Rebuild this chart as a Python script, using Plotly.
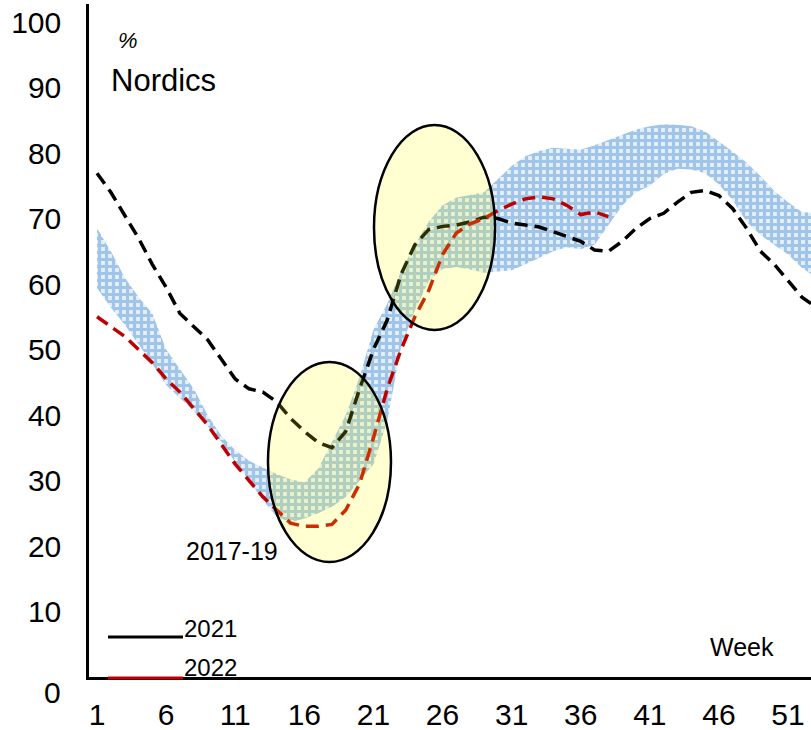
import plotly.graph_objects as go

# ---------------- data ----------------
weeks = list(range(1, 54))

band_low = [59.4, 56.4, 53.8, 50.8, 47.8, 44.6, 42.6, 40.6, 38.3, 35.9,
            32.8, 30.0, 27.0, 24.5, 23.6, 24.2, 25.0, 26.0, 27.5, 30.0,
            32.5, 39.0, 50.5, 56.0, 60.5, 62.3, 62.6, 62.2, 61.7, 61.9,
            62.1, 63.0, 64.0, 65.0, 65.6, 65.3, 66.0, 69.0, 72.0, 74.0,
            75.0, 76.8, 77.6, 77.5, 76.9, 75.2, 72.8, 69.5, 67.5, 66.0,
            64.5, 62.5, 61.0]
band_high = [68.5, 65.0, 61.0, 58.0, 55.5, 50.0, 47.0, 44.0, 40.0, 36.8,
             34.6, 33.0, 32.0, 31.0, 30.2, 29.7, 31.8, 35.8, 40.0, 45.8,
             53.0, 57.0, 62.0, 66.0, 69.5, 72.0, 73.2, 73.6, 74.0, 76.0,
             78.0, 79.5, 80.3, 80.8, 80.6, 80.5, 81.2, 82.0, 82.8, 83.6,
             84.1, 84.4, 84.3, 84.1, 83.3, 81.8, 80.2, 78.5, 76.5, 74.2,
             72.5, 71.0, 70.8]
y2021 = [76.9, 74.0, 70.5, 67.0, 63.0, 59.5, 55.5, 53.5, 51.5, 48.5,
         45.5, 44.0, 43.5, 42.0, 39.5, 37.5, 35.8, 35.0, 37.5, 44.0,
         50.0, 54.5, 61.5, 66.0, 68.3, 68.8, 69.0, 69.5, 70.2, 70.0,
         69.3, 69.0, 68.7, 68.0, 67.2, 66.5, 65.2, 65.0, 66.5, 68.5,
         70.0, 70.8, 72.5, 74.0, 74.3, 73.5, 71.5, 68.5, 65.0, 63.0,
         60.5, 58.0, 56.5]
weeks2022 = list(range(1, 39))
y2022 = [55.0, 53.5, 52.0, 50.0, 48.0, 45.5, 43.5, 41.0, 38.5, 35.5,
         32.5, 30.0, 27.5, 25.5, 23.5, 23.0, 23.0, 23.3, 25.5, 29.5,
         36.5, 44.0, 50.0, 55.0, 59.0, 64.5, 67.8, 69.2, 70.0, 71.2,
         72.2, 73.0, 73.3, 73.0, 72.0, 70.6, 71.0, 70.3]

x_ticks = [1, 6, 11, 16, 21, 26, 31, 36, 41, 46, 51]
y_ticks = [10, 20, 30, 40, 50, 60, 70, 80, 90, 100]

# highlight ellipses: (week0, week1, value0, value1)
ellipses = [(13.37, 22.27, 17.56, 48.09), (21.04, 29.80, 52.98, 84.27)]

FONT = "Liberation Sans, Arial, sans-serif"

fig = go.Figure()

fig.add_trace(go.Scatter(x=weeks, y=band_low, mode="lines",
                         line=dict(width=0, color="rgba(0,0,0,0)"),
                         showlegend=False, hoverinfo="skip"))
fig.add_trace(go.Scatter(x=weeks, y=band_high, mode="lines", fill="tonexty",
                         line=dict(width=0, color="rgba(0,0,0,0)"),
                         fillcolor="rgba(0,0,0,0)",
                         fillpattern=dict(shape="+", fgcolor="#5B9BD5",
                                          bgcolor="#E4EFFA", size=7,
                                          solidity=0.7),
                         name="2017-19", showlegend=False))
fig.add_trace(go.Scatter(x=weeks, y=y2021, mode="lines",
                         line=dict(color="black", width=3.5, dash="13px,7px"),
                         name="2021", showlegend=False))
fig.add_trace(go.Scatter(x=weeks2022, y=y2022, mode="lines",
                         line=dict(color="#C00000", width=3.5, dash="13px,7px"),
                         name="2022", showlegend=False))

shapes = []
for (a, b, c, d) in ellipses:
    shapes.append(dict(type="circle", xref="x", yref="y", x0=a, x1=b, y0=c, y1=d,
                       fillcolor="rgba(255,255,0,0.18)",
                       line=dict(color="black", width=2.5), layer="above"))

# manual legend swatches (paper coords)
W, H = 811, 730
def px(xp):
    return (xp - 89) / (811 - 89)
def py(yp):
    return (677 - yp) / (677 - 4)

shapes.append(dict(type="line", xref="paper", yref="paper",
                   x0=px(108), x1=px(183), y0=py(637), y1=py(637),
                   line=dict(color="black", width=3)))
shapes.append(dict(type="line", xref="paper", yref="paper",
                   x0=px(108), x1=px(183), y0=py(678), y1=py(678),
                   line=dict(color="#C00000", width=3)))

annotations = [
    dict(text="<i>%</i>", x=px(116), y=py(40), xref="paper", yref="paper",
         xanchor="left", yanchor="middle", showarrow=False,
         font=dict(size=22, family=FONT, color="black")),
    dict(text="Nordics", x=px(109), y=py(80), xref="paper", yref="paper",
         xanchor="left", yanchor="middle", showarrow=False,
         font=dict(size=31, family=FONT, color="black")),
    dict(text="Week", x=px(708), y=py(647), xref="paper", yref="paper",
         xanchor="left", yanchor="middle", showarrow=False,
         font=dict(size=25, family=FONT, color="black")),
    dict(text="2017-19", x=px(184), y=py(551), xref="paper", yref="paper",
         xanchor="left", yanchor="middle", showarrow=False,
         font=dict(size=25, family=FONT, color="black")),
    dict(text="2021", x=px(182), y=py(628), xref="paper", yref="paper",
         xanchor="left", yanchor="middle", showarrow=False,
         font=dict(size=24, family=FONT, color="black")),
    dict(text="2022", x=px(182), y=py(667), xref="paper", yref="paper",
         xanchor="left", yanchor="middle", showarrow=False,
         font=dict(size=24, family=FONT, color="black")),
    dict(text="0", x=px(63), y=py(692), xref="paper", yref="paper",
         xanchor="right", yanchor="middle",
         showarrow=False, font=dict(size=30, family=FONT, color="black")),
]

fig.update_layout(
    width=W, height=H,
    margin=dict(l=89, r=0, t=4, b=53, pad=0, autoexpand=False),
    paper_bgcolor="white", plot_bgcolor="white",
    shapes=shapes, annotations=annotations,
    showlegend=False,
    font=dict(family=FONT, color="black"),
)
fig.update_xaxes(range=[0.42, 52.66], tickvals=x_ticks,
                 ticktext=[str(v) for v in x_ticks],
                 showgrid=False, zeroline=False, showline=True,
                 linecolor="black", linewidth=2.5, ticks="",
                 automargin=False, ticklabelstandoff=9,
                 tickfont=dict(size=30, family=FONT, color="black"))
fig.update_yaxes(range=[0, 102.75], tickvals=y_ticks,
                 ticktext=[str(v) for v in y_ticks],
                 showgrid=False, zeroline=False, showline=True,
                 linecolor="black", linewidth=2.5, ticks="",
                 automargin=False, ticklabelstandoff=19,
                 tickfont=dict(size=30, family=FONT, color="black"))

fig.write_html("out.html", config={"displayModeBar": False},
               post_script="document.body.style.margin='0';"
                           "document.body.style.overflow='hidden';")
